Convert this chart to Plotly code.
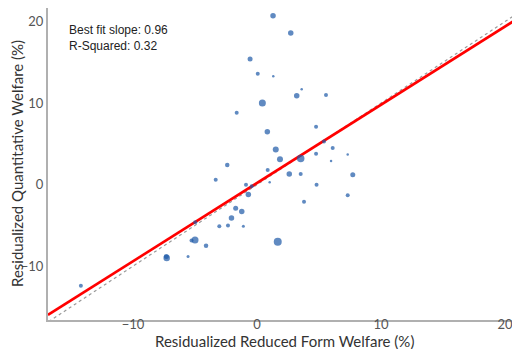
import plotly.graph_objects as go

# Residualized reduced-form welfare (%) and quantitative welfare (%)
rf_welfare = [1.29, 2.72, -0.56, 0.06, 1.31, 3.6, 3.2, 5.56, 0.43, -1.64,
              4.76, 0.83, 5.4, 6.1, 1.51, 1.85, 3.52, 4.76, 7.31, 5.97,
              -2.4, 0.86, 2.6, 3.52, 7.72, -3.33, 1.02, -0.89, -0.43, -0.7,
              4.8, 7.31, 3.79, -1.72, -1.23, -2.06, -3.04, -2.34, -1.1, -4.98,
              -5.0, -5.28, -4.11, 1.67, -5.56, -7.31, -7.28, -14.2]
q_welfare = [20.7, 18.6, 15.4, 13.6, 13.3, 11.7, 10.9, 11.0, 10.0, 8.8,
             7.1, 6.5, 5.3, 4.5, 4.3, 3.1, 3.2, 3.8, 3.7, 2.9,
             2.4, 1.8, 1.3, 1.3, 1.2, 0.6, 0.3, 0.0, -0.2, -1.2,
             0.0, -1.3, -2.1, -2.9, -3.3, -4.1, -5.1, -5.0, -5.1, -4.6,
             -6.8, -6.85, -7.5, -7.0, -8.8, -8.8, -9.0, -12.4]
weights = [5.5, 5.5, 5, 4, 2.5, 2.5, 5.5, 4, 7, 4,
           4, 5.5, 4, 4, 6, 6, 7.5, 4, 2.5, 2.5,
           4.5, 4, 5.5, 4, 5, 4, 2.5, 4, 4, 5.5,
           4, 4, 4, 5, 5.5, 5.5, 4, 4, 3, 4,
           7, 4, 4.5, 8, 3, 5, 6.5, 4]

fit_slope = 0.96
fit_intercept = 0.2
x_range = [-16.85, 21.2]
y_range = [-16.6, 21.66]
tick_vals = [-10, 0, 10, 20]

fit_x = x_range
fit_y = [fit_intercept + fit_slope * v for v in fit_x]
diag = [-18, 23]

fig = go.Figure()
fig.add_trace(go.Scatter(x=diag, y=diag, mode="lines",
                         line=dict(color="#9a9a9a", width=1.2, dash="dot"),
                         hoverinfo="skip", showlegend=False))
fig.add_trace(go.Scatter(x=fit_x, y=fit_y, mode="lines",
                         line=dict(color="#ff0000", width=2.6),
                         showlegend=False))
fig.add_trace(go.Scatter(x=rf_welfare, y=q_welfare, mode="markers",
                         marker=dict(color="#1c58a6", size=weights, line=dict(width=0)),
                         showlegend=False))

fig.add_annotation(x=0, y=1, xref="paper", yref="paper", xanchor="left", yanchor="top",
                   xshift=19, yshift=-13, showarrow=False, align="left",
                   text="Best fit slope: 0.96<br>R-Squared: 0.32",
                   font=dict(family="Liberation Sans, Arial", size=12, color="#222222"))

title_font = dict(family="Lato", size=15, color="#333333")
fig.add_annotation(x=0.5, y=0, xref="paper", yref="paper", xanchor="center", yanchor="middle",
                   yshift=-21, showarrow=False, text="Residualized Reduced Form Welfare (%)",
                   font=title_font)
fig.add_annotation(x=0, y=0.5, xref="paper", yref="paper", xanchor="center", yanchor="middle",
                   xshift=-31, showarrow=False, textangle=-90,
                   text="Residualized Quantitative Welfare (%)", font=title_font)

axis_common = dict(showgrid=False, zeroline=False, showline=True, linecolor="#b0b0b0",
                   linewidth=2, ticks="", automargin=False,
                   tickfont=dict(family="Lato", size=13, color="#555555"))

# page body has an 8px margin, so the figure is sized to the visible 512x341 area
fig.update_layout(
    width=512, height=341,
    margin=dict(l=40, r=0, t=0, b=29),
    paper_bgcolor="white", plot_bgcolor="white",
    xaxis=dict(range=x_range, tickvals=tick_vals, ticklabelstandoff=-9, **axis_common),
    yaxis=dict(range=y_range, tickvals=tick_vals, **axis_common),
)

fig.write_html("out.html")
